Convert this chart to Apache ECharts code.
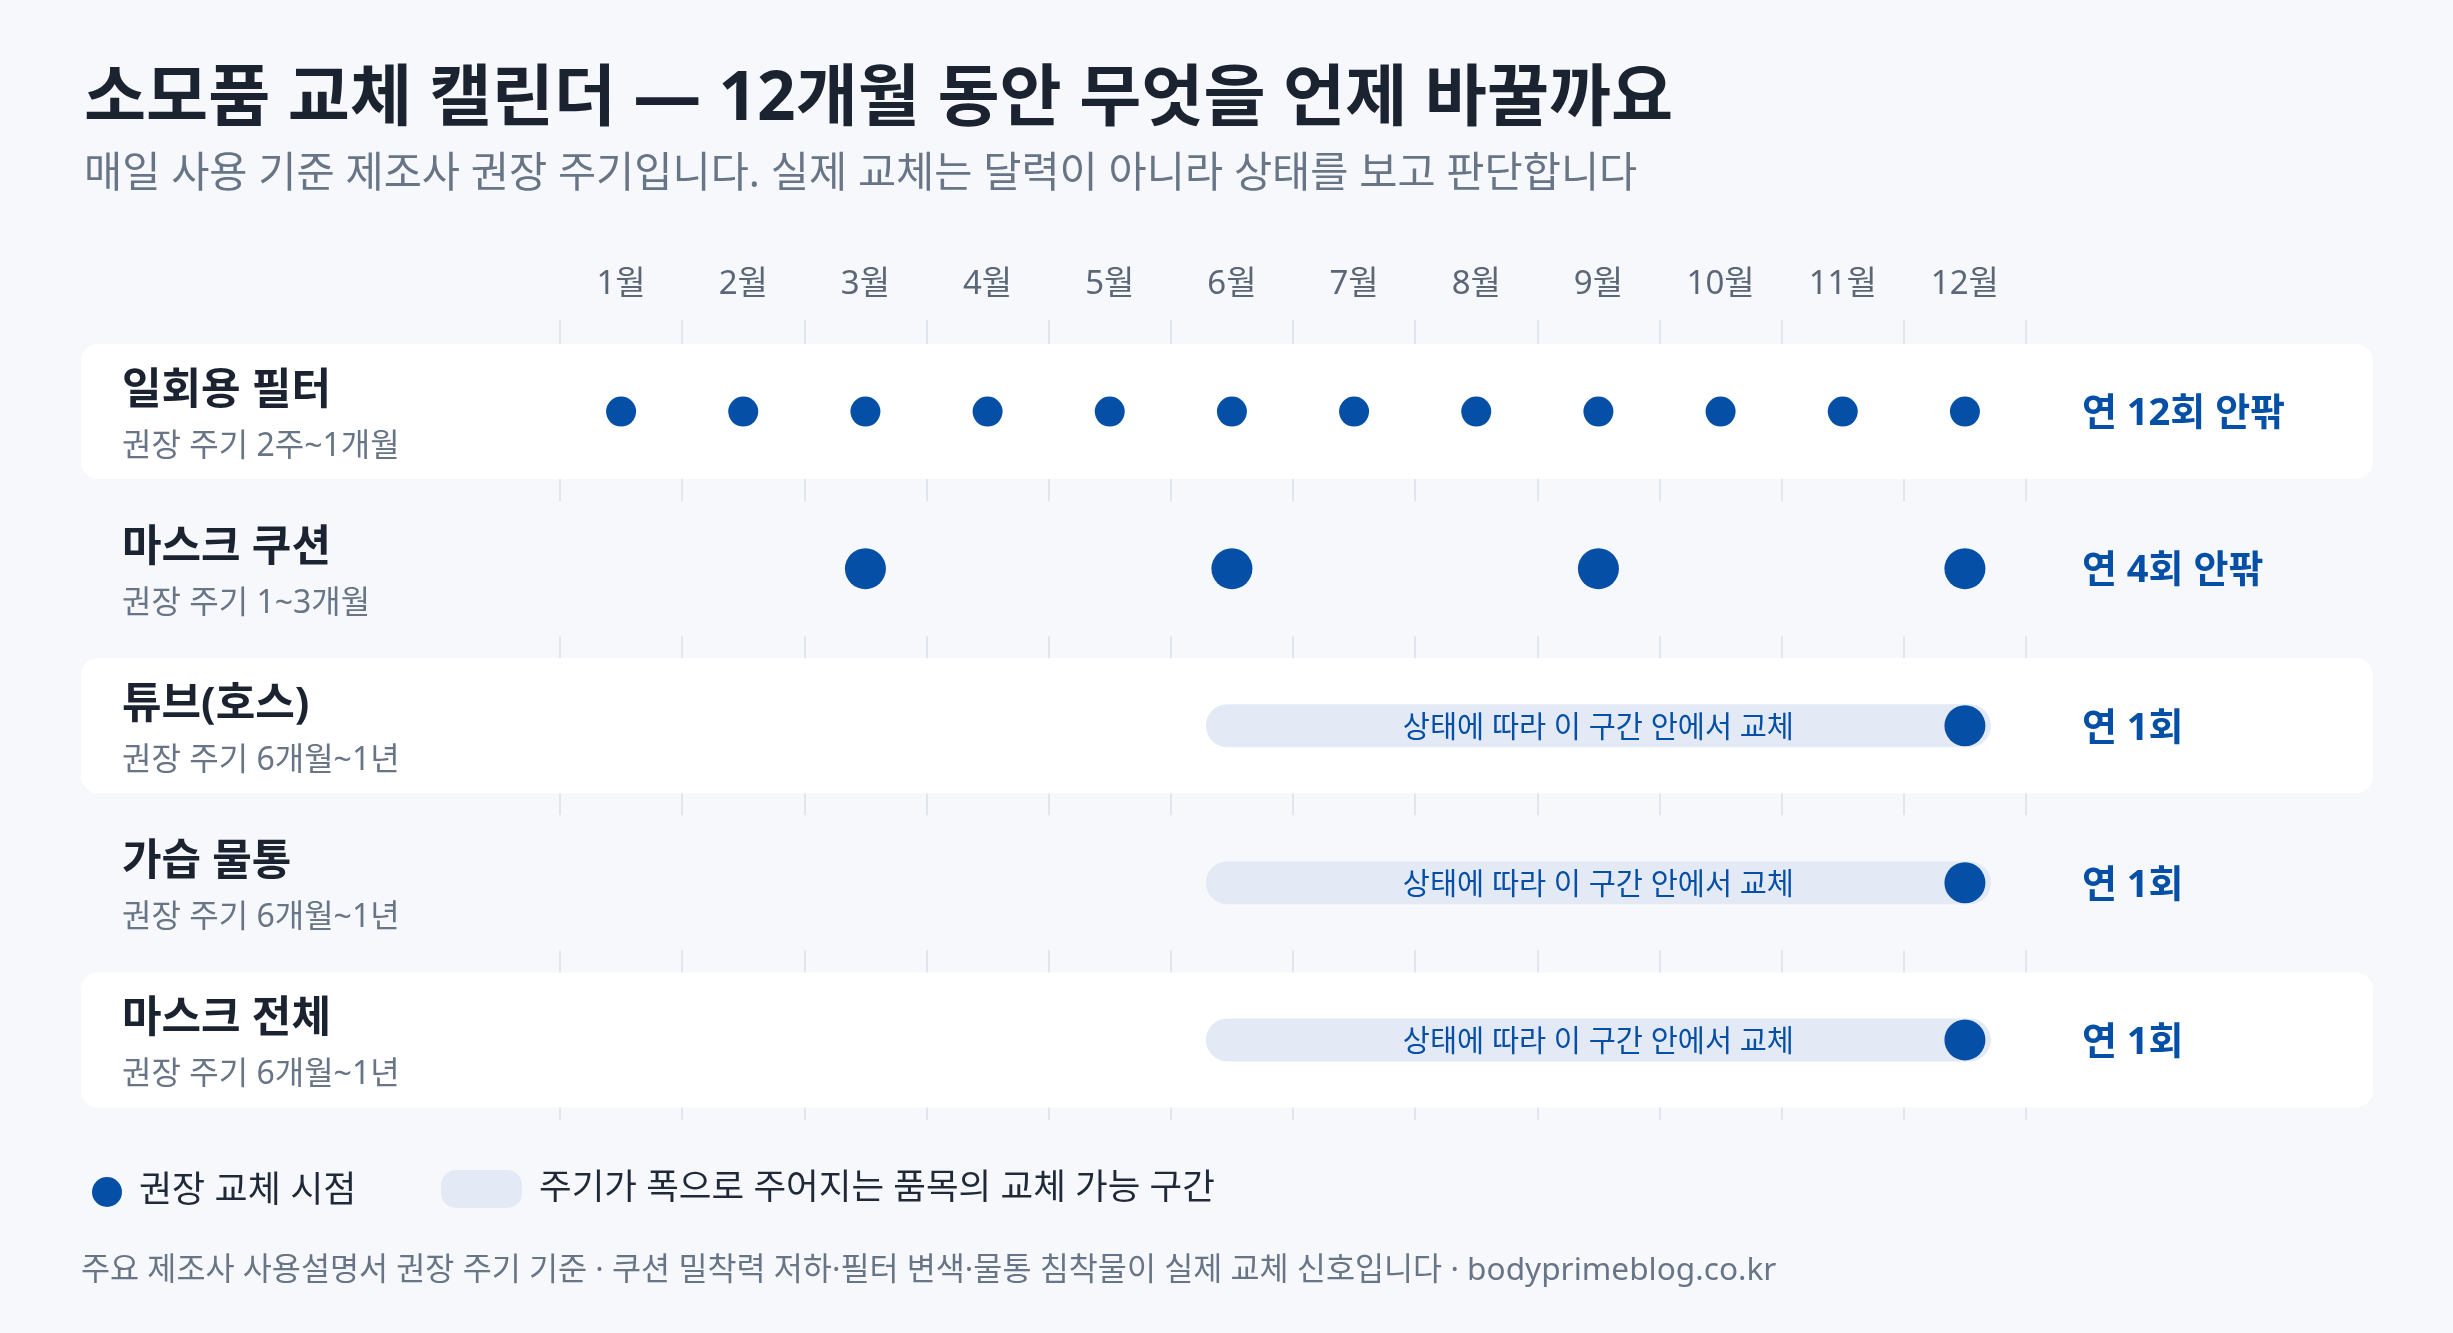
<!DOCTYPE html>
<html>
<head>
<meta charset="utf-8">
<script src="https://cdn.jsdelivr.net/npm/echarts@6/dist/echarts.min.js"></script>
<style>
  html, body { margin: 0; padding: 0; background: #f6f8fc; }
  #chart { width: 2453px; height: 1333px; }
</style>
</head>
<body>
<div id="chart"></div>
<script>
const months = ['1월','2월','3월','4월','5월','6월','7월','8월','9월','10월','11월','12월'];
const items = ['일회용 필터','마스크 쿠션','튜브(호스)','가습 물통','마스크 전체'];
const cycleTexts = ['권장 주기 2주~1개월','권장 주기 1~3개월','권장 주기 6개월~1년','권장 주기 6개월~1년','권장 주기 6개월~1년'];
const yearlyCounts = ['연 12회 안팎','연 4회 안팎','연 1회','연 1회','연 1회'];
const replaceMonths = [[1,2,3,4,5,6,7,8,9,10,11,12],[3,6,9,12],[12],[12],[12]];
const rangeStartMonth = [null,null,6,6,6];
const rangeEndMonth = [null,null,12,12,12];
const rangeNote = '상태에 따라 이 구간 안에서 교체';
const titleText = '소모품 교체 캘린더 — 12개월 동안 무엇을 언제 바꿀까요';
const subtitleText = '매일 사용 기준 제조사 권장 주기입니다. 실제 교체는 달력이 아니라 상태를 보고 판단합니다';
const footerText = '주요 제조사 사용설명서 권장 주기 기준 · 쿠션 밀착력 저하·필터 변색·물통 침착물이 실제 교체 신호입니다 · bodyprimeblog.co.kr';
const pointName = '권장 교체 시점';
const rangeName = '주기가 폭으로 주어지는 품목의 교체 가능 구간';

const FONT = '"Noto Sans", "Noto Sans CJK KR", sans-serif';
const BLUE = '#0550a6';
const BG = '#f6f8fc';
const DARK = '#1b2230';
const GRAY = '#687586';

const bandData = items.map((n, i) => [months[0], i + 1]);
const rangeData = [];
items.forEach((n, i) => {
  if (rangeStartMonth[i] != null) {
    rangeData.push([months[rangeStartMonth[i] - 1], months[rangeEndMonth[i] - 1], i + 1]);
  }
});
const pointData = [];
replaceMonths.forEach((arr, i) => arr.forEach(m => pointData.push([months[m - 1], i + 1])));

const chart = echarts.init(document.getElementById('chart'), null, { renderer: 'canvas' });
chart.setOption({
  backgroundColor: BG,
  animation: false,
  title: {
    text: titleText,
    subtext: subtitleText,
    left: 79,
    top: 62,
    itemGap: 19,
    textStyle: { fontFamily: FONT, fontSize: 67.5, fontWeight: 'bold', color: DARK, lineHeight: 68 },
    subtextStyle: { fontFamily: FONT, fontSize: 41.5, color: GRAY, lineHeight: 42 }
  },
  legend: [
    {
      data: [pointName],
      left: 87, top: 1169,
      itemWidth: 30, itemHeight: 30,
      icon: 'circle',
      selectedMode: false,
      textStyle: { fontFamily: FONT, fontSize: 36, color: '#1f2937', padding: [0, 0, 0, 12] }
    },
    {
      data: [{ name: rangeName, itemStyle: { color: '#e3eaf6' } }],
      left: 436, top: 1165,
      itemWidth: 81, itemHeight: 38,
      icon: 'path://M15,0 H66 A15,15 0 0 1 81,15 V23 A15,15 0 0 1 66,38 H15 A15,15 0 0 1 0,23 V15 A15,15 0 0 1 15,0 Z',
      selectedMode: false,
      textStyle: { fontFamily: FONT, fontSize: 35.5, color: '#1f2937', padding: [0, 0, 0, 12] }
    }
  ],
  grid: { left: 560, right: 427, top: 320, bottom: 213 },
  xAxis: {
    type: 'category',
    data: months,
    position: 'top',
    boundaryGap: true,
    axisLine: { show: false },
    axisTick: { show: false },
    axisLabel: { fontFamily: FONT, fontSize: 33, color: '#5b6677', margin: 19, interval: 0 },
    splitLine: { show: true, interval: 0, lineStyle: { color: '#e1e6ee', width: 2 } }
  },
  yAxis: {
    type: 'value',
    inverse: true,
    min: 0.417,
    max: 5.51,
    show: false
  },
  graphic: [
    {
      type: 'text', left: 81, top: 1255,
      style: { text: footerText, fontFamily: FONT, fontSize: 31.6, fill: GRAY }
    }
  ],
  series: [
    {
      type: 'custom',
      name: 'rows',
      clip: false,
      z: 1,
      silent: true,
      encode: { x: 0, y: 1 },
      data: bandData,
      renderItem: function (params, api) {
        const idx = params.dataIndex;
        const c = api.coord([0, api.value(1)]);
        const cy = c[1];
        return {
          type: 'group',
          children: [
            {
              type: 'rect',
              shape: { x: 81, y: cy - 67.5, width: 2292, height: 135, r: 17 },
              style: { fill: idx % 2 === 0 ? '#ffffff' : BG }
            },
            {
              type: 'text', x: 122, y: cy - 20,
              style: { text: items[idx], fontFamily: FONT, fontSize: 43, fontWeight: 'bold', fill: DARK, align: 'left', verticalAlign: 'middle' }
            },
            {
              type: 'text', x: 122, y: cy + 35,
              style: { text: cycleTexts[idx], fontFamily: FONT, fontSize: 32, fill: GRAY, align: 'left', verticalAlign: 'middle' }
            },
            {
              type: 'text', x: 2082, y: cy + 3,
              style: { text: yearlyCounts[idx], fontFamily: FONT, fontSize: 38, fontWeight: 'bold', fill: BLUE, align: 'left', verticalAlign: 'middle' }
            }
          ]
        };
      }
    },
    {
      type: 'custom',
      name: rangeName,
      clip: false,
      z: 2,
      itemStyle: { color: '#e3eaf6' },
      encode: { x: [0, 1], y: 2 },
      data: rangeData,
      renderItem: function (params, api) {
        const s = api.coord([api.value(0), api.value(2)]);
        const e = api.coord([api.value(1), api.value(2)]);
        const pad = 26, h = 43;
        const x0 = s[0] - pad, x1 = e[0] + pad;
        return {
          type: 'group',
          children: [
            {
              type: 'rect',
              shape: { x: x0, y: s[1] - h / 2, width: x1 - x0, height: h, r: h / 2 },
              style: { fill: '#e3eaf6' }
            },
            {
              type: 'text', x: (x0 + x1) / 2, y: s[1] + 3,
              style: { text: rangeNote, fontFamily: FONT, fontSize: 29.5, fill: BLUE, align: 'center', verticalAlign: 'middle' }
            }
          ]
        };
      }
    },
    {
      type: 'scatter',
      name: pointName,
      z: 3,
      data: pointData,
      symbol: 'circle',
      symbolSize: function (val) { return val[1] === 1 ? 30 : 41; },
      itemStyle: { color: BLUE, opacity: 1 }
    }
  ]
});
</script>
</body>
</html>
